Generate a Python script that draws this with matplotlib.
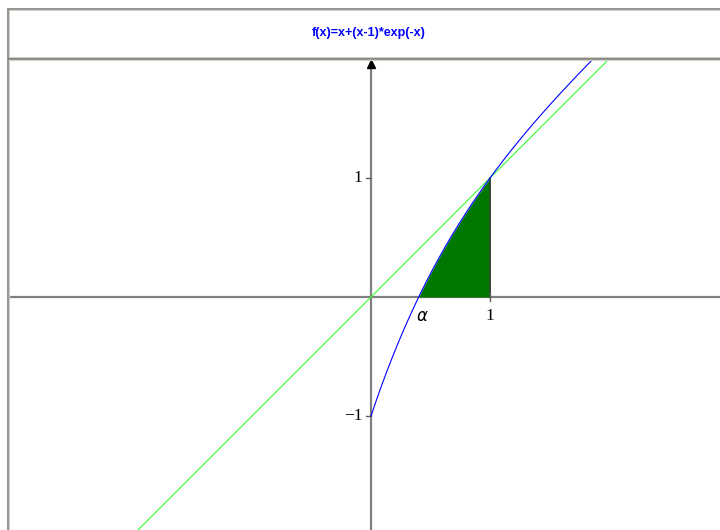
import numpy as np
import matplotlib
matplotlib.use("Agg")
import matplotlib.pyplot as plt
from matplotlib.patches import Rectangle

# Chart content
title = "f(x)=x+(x-1)*exp(-x)"
alpha_root = 0.4016          # zero of f on [0, 1]
x_ticks = [1]
x_tick_labels = ["1"]
y_ticks = [1, -1]
y_tick_labels = ["1", "\u22121"]
curve_start, curve_end = 0.0, 2.0
line_start, line_end = -3.1, 3.0

def f(x):
    return x + (x - 1) * np.exp(-x)

W, H = 720, 530
fig = plt.figure(figsize=(W / 100, H / 100), dpi=100)
fig.patch.set_facecolor("white")

# frame + title band (pixel coordinates -> figure fractions)
def box(x0, y0, x1, y1, **kw):
    fig.add_artist(Rectangle((x0 / W, 1 - y1 / H), (x1 - x0) / W, (y1 - y0) / H,
                             transform=fig.transFigure, fill=False, **kw))

box(8, 9, 722, 58, edgecolor="#808080", linewidth=1.2)
box(9, 10, 722, 57, edgecolor="#d4d0c8", linewidth=0.8)
box(8, 59, 722, 535, edgecolor="#808080", linewidth=1.2)
box(9, 60, 722, 535, edgecolor="#d4d0c8", linewidth=0.8)

fig.text(369 / W, 1 - 33 / H, title, color="#0000ff", fontsize=9,
         fontweight="bold", ha="center", va="center", family="Liberation Sans")

# plot axes: origin at pixel (371, 297), 119 px per unit
left, top, bottom = 10, 61, 530
ax = fig.add_axes([left / W, 1 - bottom / H, (W - left) / W, (bottom - top) / H])
u = 119.0
ox, oy = 371, 297
ax.set_xlim(-(ox - left) / u, (W - ox) / u)
ax.set_ylim(-(bottom - oy) / u, (oy - top) / u)
ax.axis("off")

# axes
ax.axhline(0, color="#808080", linewidth=1.6, zorder=1)
ax.axvline(0, color="#808080", linewidth=1.6, zorder=1)
ax.plot([0], [ax.get_ylim()[1] - 0.025], marker="^", color="black",
        markersize=5.5, clip_on=False, zorder=5)

# shaded region between alpha and 1
xs = np.linspace(alpha_root, 1, 200)
ax.fill_between(xs, 0, f(xs), color="#007800", linewidth=0, zorder=2)
ax.plot([1, 1], [0, f(1.0)], color="#2e4a2e", linewidth=1.4, zorder=3)

# y = x line and the curve
xl = np.linspace(line_start, line_end, 50)
ax.plot(xl, xl, color="#33ff33", linewidth=0.8, zorder=4)
xc = np.linspace(curve_start, curve_end, 400)
ax.plot(xc, f(xc), color="#0000ff", linewidth=0.8, zorder=4)

# ticks and labels
for t, lab in zip(x_ticks, x_tick_labels):
    ax.plot([t, t], [-0.03, 0.03], color="#606060", linewidth=1.0, zorder=3)
    ax.text(t, -0.09, lab, ha="center", va="top", fontsize=12.5,
            family="Liberation Serif")
ax.text(alpha_root + 0.03, -0.08, r"$\alpha$", ha="center", va="top",
        fontsize=12)
for t, lab in zip(y_ticks, y_tick_labels):
    ax.plot([-0.04, 0], [t, t], color="#606060", linewidth=1.0, zorder=3)
    ax.text(-0.07, t, lab, ha="right", va="center", fontsize=12.5,
            family="Liberation Serif")

fig.savefig("out.png", dpi=100, facecolor="white")
